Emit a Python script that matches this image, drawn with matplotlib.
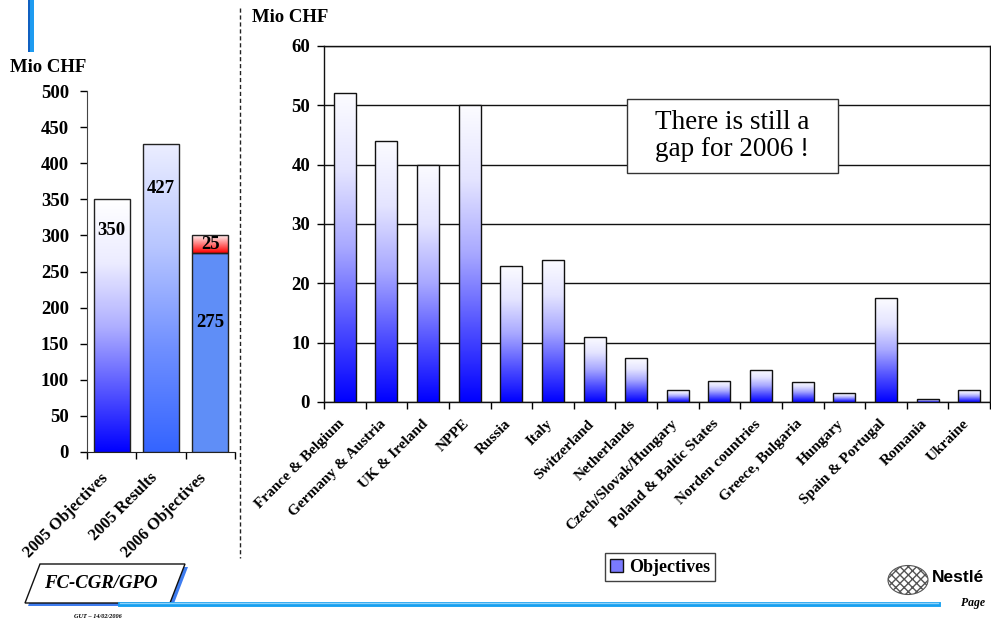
import numpy as np
import matplotlib
matplotlib.use('Agg')
import matplotlib.pyplot as plt
from matplotlib.colors import LinearSegmentedColormap
from matplotlib.patches import Polygon, Rectangle, Patch, Ellipse
from matplotlib.lines import Line2D
from matplotlib.transforms import ScaledTranslation

plt.rcParams['font.family'] = ['Liberation Serif', 'DejaVu Serif']

# left panel: totals
left_cats = ['2005 Objectives', '2005 Results', '2006 Objectives']
left_vals = [350, 427]
obj_2006_base = 275
obj_2006_gap = 25
left_ticks = list(range(0, 501, 50))

# right panel: objectives by region
regions = ['France & Belgium', 'Germany & Austria', 'UK & Ireland', 'NPPE', 'Russia',
           'Italy', 'Switzerland', 'Netherlands', 'Czech/Slovak/Hungary',
           'Poland & Baltic States', 'Norden countries', 'Greece, Bulgaria',
           'Hungary', 'Spain & Portugal', 'Romania', 'Ukraine']
objectives = [52, 44, 40, 50, 23, 24, 11, 7.4, 2.0, 3.6, 5.4, 3.4, 1.5, 17.5, 0.5, 2.0]
right_ticks = list(range(0, 61, 10))

W, H = 991, 621
fig = plt.figure(figsize=(W / 100, H / 100), dpi=100)


def fx(px):
    return px / W


def fy(py):
    return 1 - py / H


def gradient_fill(ax, bar, stops):
    # stops run bottom -> top
    x, y = bar.get_xy()
    w, h = bar.get_width(), bar.get_height()
    cmap = LinearSegmentedColormap.from_list('g', stops)
    grad = np.linspace(0, 1, 256).reshape(-1, 1)
    im = ax.imshow(grad, extent=[x, x + w, y, y + h], origin='lower', cmap=cmap,
                   aspect='auto', interpolation='bicubic', zorder=bar.get_zorder() - 0.1)
    im.set_clip_path(bar)
    bar.set_facecolor('none')


def category_axis(ax, n):
    ax.set_xlim(-0.5, n - 0.5)
    ax.set_xticks(np.arange(n + 1) - 0.5)
    ax.set_xticklabels([])
    ax.set_xticks(np.arange(n), minor=True)
    ax.tick_params(axis='x', which='major', direction='out', length=5, width=1)
    ax.tick_params(axis='x', which='minor', length=0)


def nudge_labels(ax, dx_px):
    shift = ScaledTranslation(dx_px / 100, 0, fig.dpi_scale_trans)
    for lab in ax.get_xticklabels(minor=True):
        lab.set_transform(lab.get_transform() + shift)


tick_font = dict(fontsize=13.5, fontweight='bold')
blue_stops = ['#0000FF', '#5050FF', '#A8A8FF', '#E4E4FF', '#FCFCFF']

# ---- left panel
axl = fig.add_axes([fx(87), fy(452), fx(235 - 87), fy(91) - fy(452)])
xl = np.arange(len(left_cats))
bars = axl.bar(xl[:2], left_vals, width=0.73, edgecolor='#222222', linewidth=1, zorder=3)
gradient_fill(axl, bars[0], ['#0000FF', '#5858FF', '#B0B0FF', '#ECECFF', '#FFFFFF'])
gradient_fill(axl, bars[1], ['#3464FF', '#6F8FFF', '#B8C6FF', '#ECEEFF'])
base = axl.bar(xl[2], obj_2006_base, width=0.73, color='#5F8EF7', edgecolor='#222222',
               linewidth=1, zorder=3)
gap = axl.bar(xl[2], obj_2006_gap, bottom=obj_2006_base, width=0.73,
              edgecolor='#222222', linewidth=1, zorder=3)
gradient_fill(axl, gap[0], ['#FF0000', '#FF8080', '#FFFFFF'])

axl.text(xl[0], left_vals[0] - 43, str(left_vals[0]), ha='center', va='center', **tick_font, zorder=5)
axl.text(xl[1], left_vals[1] - 62, str(left_vals[1]), ha='center', va='center', **tick_font, zorder=5)
axl.text(xl[2], obj_2006_base + obj_2006_gap / 2, str(obj_2006_gap), ha='center', va='center',
         **tick_font, zorder=5)
axl.text(xl[2], obj_2006_base * 0.65, str(obj_2006_base), ha='center', va='center',
         **tick_font, zorder=5)

category_axis(axl, len(left_cats))
axl.set_xticklabels(left_cats, minor=True, rotation=45, ha='right', va='top',
                    rotation_mode='anchor', fontsize=12, fontweight='bold')
axl.tick_params(axis='x', which='minor', pad=13)
nudge_labels(axl, -12)
axl.set_ylim(0, 500)
axl.set_yticks(left_ticks)
axl.set_yticklabels([str(t) for t in left_ticks], **tick_font)
axl.tick_params(axis='y', direction='out', length=5, width=1, pad=8)
for s in ['top', 'right']:
    axl.spines[s].set_visible(False)
axl.spines['left'].set_color('#444444')
axl.spines['bottom'].set_color('#222222')
axl.set_facecolor('none')
fig.text(fx(48), fy(67), 'Mio CHF', ha='center', va='center', fontsize=13.5, fontweight='bold')

# ---- right panel
axr = fig.add_axes([fx(324), fy(402), fx(990 - 324), fy(46) - fy(402)])
xr = np.arange(len(regions))
rbars = axr.bar(xr, objectives, width=0.53, edgecolor='#111111', linewidth=1, zorder=3)
for b in rbars:
    gradient_fill(axr, b, blue_stops)

category_axis(axr, len(regions))
axr.set_xticklabels(regions, minor=True, rotation=45, ha='right', va='top',
                    rotation_mode='anchor', fontsize=11, fontweight='bold')
axr.tick_params(axis='x', which='minor', pad=11)
nudge_labels(axr, -7)
axr.set_ylim(0, 60)
axr.set_yticks(right_ticks)
axr.set_yticklabels([str(t) for t in right_ticks], **tick_font)
axr.tick_params(axis='y', direction='out', length=5, width=1, pad=5)
axr.yaxis.grid(True, color='#111111', linewidth=1)
axr.set_axisbelow(True)
for s in axr.spines.values():
    s.set_color('#111111')
    s.set_linewidth(1)
fig.text(fx(290), fy(17), 'Mio CHF', ha='center', va='center', fontsize=13.5, fontweight='bold')

# call-out box
fig.add_artist(Rectangle((fx(627), fy(173)), fx(838 - 627), fy(99) - fy(173),
                         facecolor='white', edgecolor='#333333', linewidth=1, zorder=5))
fig.text(fx(732.5), fy(136), 'There is still a\ngap for 2006 !', ha='center', va='center',
         fontsize=19.5, linespacing=1.1, zorder=6)

fig.legend(handles=[Patch(facecolor='#7a7aff', edgecolor='#111111', label='Objectives')],
           loc='center', bbox_to_anchor=(fx(660), fy(567)),
           prop=dict(weight='bold', size=13), frameon=True, fancybox=False,
           edgecolor='#111111', handlelength=0.75, handleheight=0.75, handletextpad=0.3,
           borderpad=0.3, borderaxespad=0)

# ---- page decorations
fig.add_artist(Line2D([fx(240), fx(240)], [fy(8), fy(558)], color='#222222',
                      linewidth=1, linestyle=(0, (3, 2))))
fig.add_artist(Rectangle((fx(28), fy(52)), fx(6), fy(0) - fy(52), facecolor='#1E9BF0',
                         edgecolor='none'))
fig.add_artist(Rectangle((fx(28), fy(52)), fx(2), fy(0) - fy(52), facecolor='#1060C0',
                         edgecolor='none'))
fig.add_artist(Line2D([fx(120), fx(938)], [fy(604), fy(604)], color='#16A0F0', linewidth=3.5))
fig.add_artist(Line2D([fx(120), fx(938)], [fy(602.5), fy(602.5)], color='#8FD3FA', linewidth=1))

shadow = [(28, 606), (173, 606), (188, 567), (43, 567)]
box = [(25, 603), (170, 603), (185, 564), (40, 564)]
fig.add_artist(Polygon([(fx(a), fy(b)) for a, b in shadow], closed=True,
                       facecolor='#3F7DF0', edgecolor='none'))
fig.add_artist(Polygon([(fx(a), fy(b)) for a, b in box], closed=True,
                       facecolor='white', edgecolor='#111111', linewidth=1))
fig.text(fx(101), fy(583), 'FC-CGR/GPO', ha='center', va='center', fontsize=13.5,
         fontweight='bold', style='italic')
fig.text(fx(98), fy(616), 'GUT \u2013 14/02/2006', ha='center', va='center', fontsize=4.5,
         fontweight='bold', style='italic')
fig.text(fx(973), fy(603), 'Page', ha='center', va='center', fontsize=8.5,
         fontweight='bold', style='italic')

# nest emblem and wordmark
fig.add_artist(Ellipse((fx(908), fy(580)), fx(40), fy(565) - fy(594), facecolor='white',
                       edgecolor='#555555', hatch='xxxx', linewidth=0.8))
fig.text(fx(932), fy(578), 'Nestl\u00e9', ha='left', va='center', fontsize=12.5,
         fontweight='bold', family='Liberation Sans')

fig.savefig('out.png', dpi=100)
